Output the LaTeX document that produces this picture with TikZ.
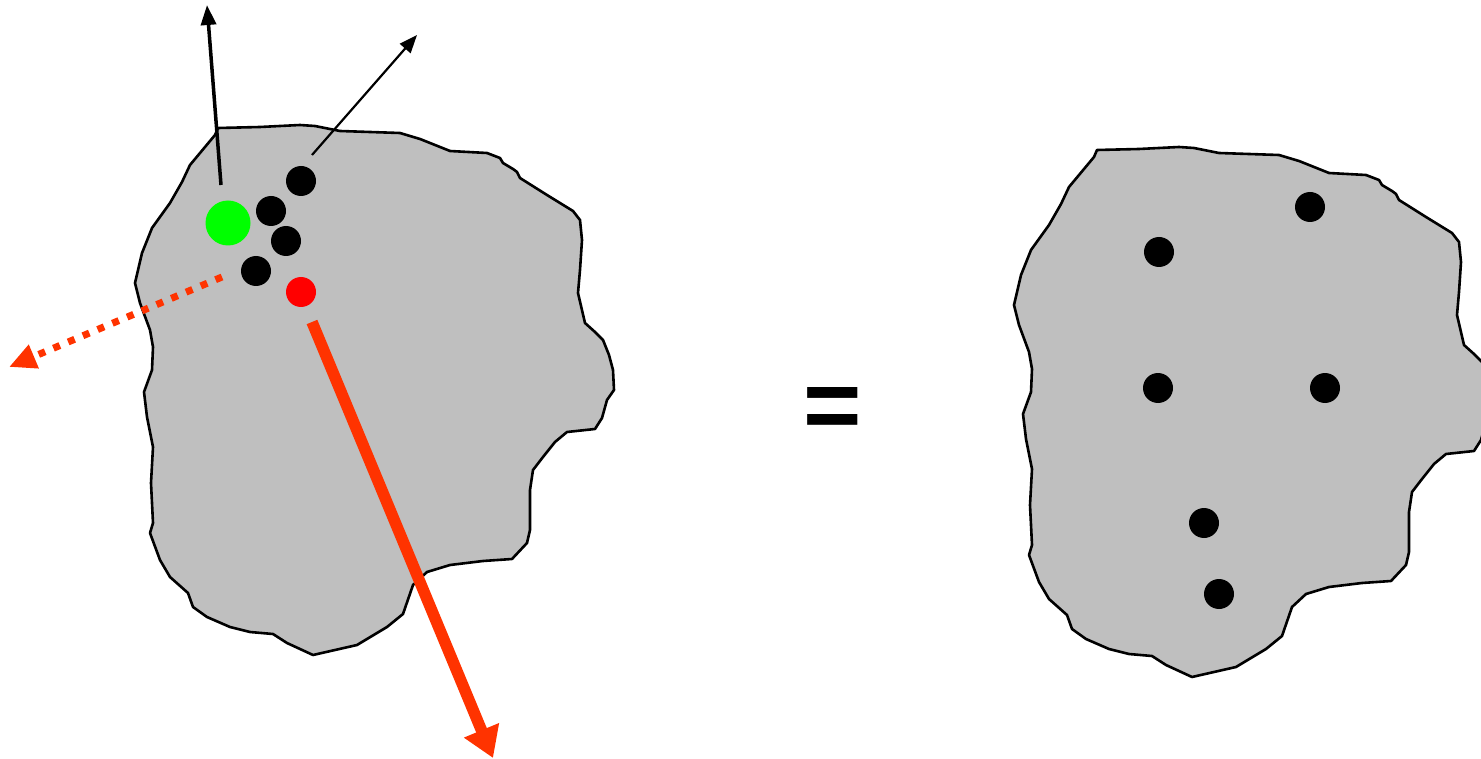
\documentclass[tikz,border=0pt]{standalone}
\usepackage{fontspec}
\setmainfont{Liberation Sans}
\usetikzlibrary{arrows.meta}

\definecolor{blobgray}{RGB}{191,191,191}
\definecolor{forcered}{RGB}{255,51,0}

\begin{document}
\begin{tikzpicture}[x=1pt,y=-1pt,
  blob/.style={fill=blobgray,draw=black,line width=2.6pt,line join=round},
  dot/.style={circle,fill=black,inner sep=0pt,minimum size=30pt},
  bigdot/.style={circle,fill=green,inner sep=0pt,minimum size=45pt}]
  \useasboundingbox (0,0) rectangle (1481,759);
  % i due corpi (stesso contorno, il secondo traslato)
  \foreach \dx/\dy in {0/0,879/22}
    \draw[blob,shift={(\dx,\dy)}] (218,128) -- (260,127) -- (300,125) -- (315,126) -- (340,131)
      -- (400,133) -- (420,139) -- (450,151) -- (487,153) -- (500,158) -- (503,163) -- (513,169)
      -- (517,172) -- (520,178) -- (547,195) -- (573,211) -- (580,220) -- (582,240) -- (580,270)
      -- (578,293) -- (585,323) -- (595,332) -- (603,340) -- (609,355) -- (613,370) -- (614,390)
      -- (607,400) -- (602,418) -- (595,429) -- (567,432) -- (555,442) -- (543,457) -- (533,470)
      -- (530,490) -- (530,530) -- (527,543) -- (512,559) -- (483,561) -- (450,565) -- (427,572)
      -- (413,585) -- (403,614) -- (387,627) -- (357,645) -- (313,655) -- (287,643) -- (273,634)
      -- (250,632) -- (230,627) -- (207,617) -- (193,607) -- (188,593) -- (170,577) -- (160,560)
      -- (150,533) -- (153,523) -- (151,483) -- (153,447) -- (147,417) -- (144,392) -- (152,370)
      -- (153,347) -- (150,330) -- (140,303) -- (135,283) -- (142,253) -- (152,228) -- (170,203)
      -- (182,182) -- (190,165) -- (215,135) -- cycle;
  % particelle del primo corpo
  \node[bigdot] (g) at (228,223) {};
  \node[dot] (p1) at (301,181) {};
  \node[dot] (p2) at (271,211) {};
  \node[dot] (p3) at (286,241) {};
  \node[dot] (p4) at (256,271) {};
  \node[dot,fill=red] (r) at (301,292) {};
  % forze
  \coordinate (gfoot) at (221,185);
  \coordinate (gtip) at (207,5);
  \coordinate (p1foot) at (312,155);
  \coordinate (p1tip) at (417,35);
  \coordinate (p4foot) at (222,277);
  \coordinate (p4tip) at (9,367);
  \coordinate (rfoot) at (312,322);
  \coordinate (rtip) at (493,758);
  \draw[-{Triangle[length=20pt,width=15pt]},line width=3.5pt] (gfoot) -- (gtip);
  \draw[-{Triangle[length=18pt,width=14pt]},line width=2.2pt] (p1foot) -- (p1tip);
  \draw[-{Triangle[length=27pt,width=24pt]},forcered,line width=7pt,dash pattern=on 7pt off 9pt] (p4foot) -- (p4tip);
  \draw[-{Triangle[length=30pt,width=36pt]},forcered,line width=11.5pt] (rfoot) -- (rtip);
  % uguale
  \node[font=\fontsize{100}{100}\selectfont\bfseries] (eq) at (833,413) {=};
  % particelle del secondo corpo
  \foreach \p [count=\k] in {(1310,207),(1159,252),(1158,388),(1325,388),(1204,523),(1219,594)}
    \node[dot] (q\k) at \p {};
\end{tikzpicture}
\end{document}
